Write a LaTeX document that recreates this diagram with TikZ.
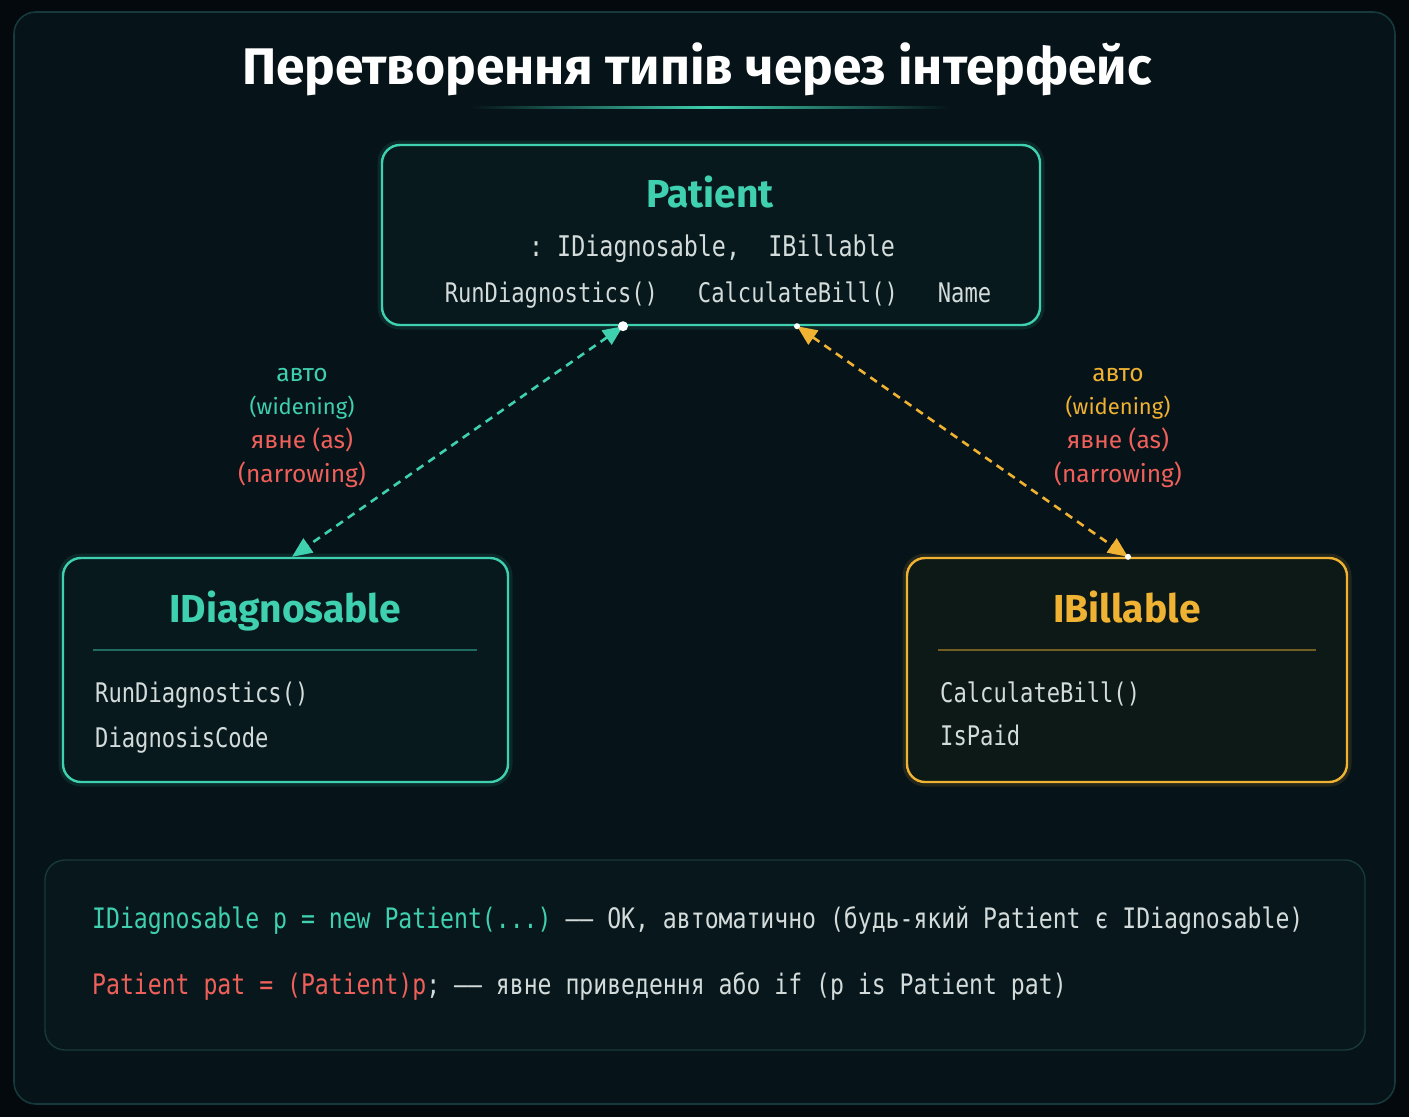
\documentclass[tikz,border=0pt]{standalone}
\usepackage{fontspec}
\setmainfont{Fira Sans}
\newfontfamily\codefont[FakeStretch=0.82]{DejaVu Sans Mono}
\usepackage{tikz}
\usetikzlibrary{positioning,arrows.meta}

\definecolor{bgout}{HTML}{04090D}
\definecolor{panel}{HTML}{061318}
\definecolor{panelline}{HTML}{17393B}
\definecolor{boxfill}{HTML}{07191D}
\definecolor{billfill}{HTML}{0D1916}
\definecolor{codefill}{HTML}{08171B}
\definecolor{tealc}{HTML}{3FD0B0}
\definecolor{goldc}{HTML}{F0B232}
\definecolor{redc}{HTML}{F0605A}
\definecolor{txtc}{HTML}{D3DBDB}

\begin{document}
\begin{tikzpicture}[x=1pt, y=-1pt,
  cls/.style={draw=#1, line width=2.4pt, rounded corners=18pt, inner sep=0pt,
    preaction={draw=#1, line width=9pt, opacity=0.12}},
  ctitle/.style={font=\bfseries\fontsize{39}{44}\selectfont, anchor=base, inner sep=0pt},
  member/.style={font=\codefont\fontsize{27}{32}\selectfont, text=txtc, anchor=base west, inner sep=0pt},
  code/.style={font=\codefont\fontsize{28.2}{34}\selectfont, anchor=base west, inner sep=0pt},
  lbl/.style={font=\fontsize{24.5}{28}\selectfont, anchor=base, inner sep=0pt},
  sublbl/.style={lbl, font=\fontsize{22}{26}\selectfont},
  sep/.style={line width=1.2pt, opacity=0.45},
  conv/.style={line width=2.6pt, dash pattern=on 8pt off 6pt,
    {Triangle[length=20pt,width=17pt]}-{Triangle[length=20pt,width=17pt]}},
]
% background and frame
\fill[bgout] (0,0) rectangle (1409,1117);
\useasboundingbox (0,0) rectangle (1409,1117);
\draw[fill=panel, draw=panelline, line width=1.6pt, rounded corners=22pt] (14,12) rectangle (1395,1104);

% title
\node[font=\bfseries\fontsize{51.5}{58}\selectfont, text=white, anchor=base, inner sep=0pt] (title) at (697,84)
  {Перетворення типів через інтерфейс};
\shade[left color=panel, right color=panel, middle color=tealc] (470,106) rectangle (950,108.5);

% classes
\node[cls=tealc, fill=boxfill, minimum width=658, minimum height=180] (patient) at (711,235) {};
\node[ctitle, text=tealc] (ptitle) at (710,207) {Patient};
\node[member, anchor=base, font=\codefont\fontsize{28.5}{32}\selectfont] (pbase) at (712,256) {:~IDiagnosable,~~IBillable};
\node[member, anchor=base] (pmembers) at (718,302) {RunDiagnostics()~~~CalculateBill()~~~Name};

\node[cls=tealc, fill=boxfill, minimum width=445, minimum height=224] (idiag) at (285.5,670) {};
\node[ctitle, text=tealc] (dtitle) at (285,622) {IDiagnosable};
\draw[sep, tealc] (93,650) -- (477,650);
\node[member] (dm1) at (95,702) {RunDiagnostics()};
\node[member] (dm2) at (95,747) {DiagnosisCode};

\node[cls=goldc, fill=billfill, minimum width=440, minimum height=224] (ibill) at (1127,670) {};
\node[ctitle, text=goldc] (btitle) at (1127,622) {IBillable};
\draw[sep, goldc] (938,650) -- (1316,650);
\node[member] (bm1) at (940,702) {CalculateBill()};
\node[member] (bm2) at (940,745) {IsPaid};

% conversions
\coordinate (pl) at ([xshift=-88]patient.south);
\coordinate (pr) at ([xshift=86]patient.south);
\coordinate (dtop) at ([xshift=6.5]idiag.north);
\coordinate (btop) at ([xshift=1]ibill.north);
\draw[conv, tealc] (pl) -- (dtop);
\draw[conv, goldc] (pr) -- (btop);
\fill[white] (pl) circle (5);
\fill[white] (pr) circle (3);
\fill[white] (btop) circle (3);

\node[lbl, text=tealc] (la1) at (302,381) {авто};
\node[sublbl, text=tealc] (la2) at (302,414) {(widening)};
\node[lbl, text=redc] (la3) at (302,448) {явне (as)};
\node[lbl, text=redc] (la4) at (302,482) {(narrowing)};
\node[lbl, text=goldc] (ra1) at (1118,381) {авто};
\node[sublbl, text=goldc] (ra2) at (1118,414) {(widening)};
\node[lbl, text=redc] (ra3) at (1118,448) {явне (as)};
\node[lbl, text=redc] (ra4) at (1118,482) {(narrowing)};

% code panel
\draw[fill=codefill, draw=panelline, line width=1.4pt, rounded corners=20pt] (45,860) rectangle (1365,1050);
\node[code, text=tealc] (c1) at (92,928)
  {IDiagnosable p = new Patient(...)~\textcolor{txtc}{—— OK, автоматично (будь-який Patient є IDiagnosable)}};
\node[code, text=redc] (c2) at (92,994)
  {Patient pat = (Patient)p\textcolor{txtc}{;~—— явне приведення або if (p is Patient pat)}};
\end{tikzpicture}
\end{document}
